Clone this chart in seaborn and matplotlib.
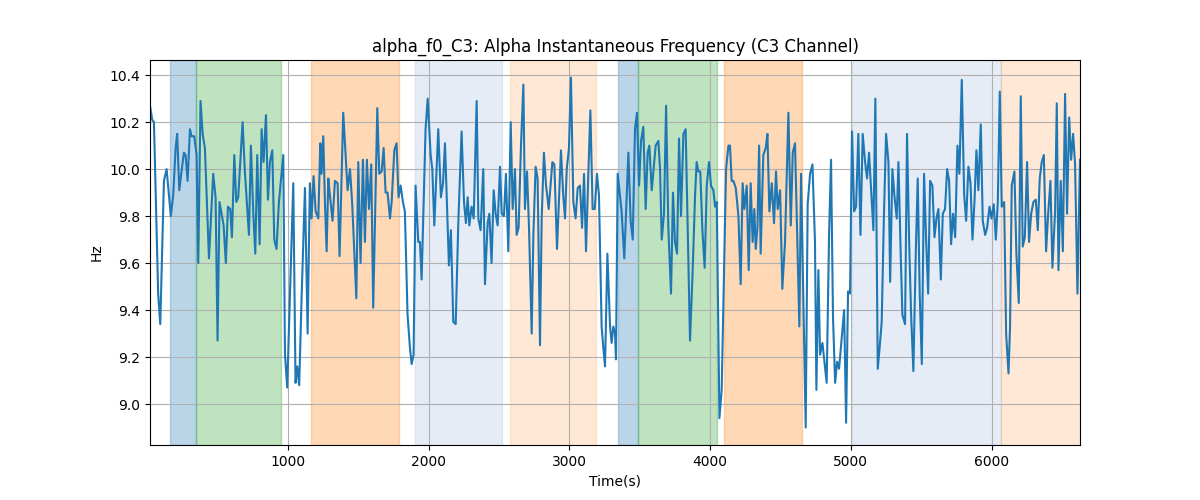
import matplotlib
matplotlib.use("Agg")
import matplotlib.pyplot as plt
import pandas as pd
import seaborn as sns

# alpha instantaneous frequency samples (time in s, value in Hz)
times = [20, 36, 48, 78, 93, 119, 138, 168, 185, 202, 213, 228, 244, 261, 273, 287, 304, 315, 334, 351,
         363, 379, 394, 410, 439, 469, 486, 500, 514, 543, 559, 574, 590, 602, 619, 633, 647, 678, 694, 723,
         737, 754, 768, 782, 799, 813, 827, 844, 858, 872, 889, 903, 919, 936, 967, 979, 995, 1038, 1054, 1066,
         1080, 1097, 1121, 1140, 1156, 1168, 1182, 1197, 1216, 1230, 1239, 1251, 1263, 1275, 1287, 1298, 1317, 1334, 1353, 1367,
         1393, 1424, 1441, 1457, 1486, 1500, 1516, 1533, 1547, 1561, 1576, 1592, 1606, 1635, 1649, 1666, 1680, 1694, 1708, 1725,
         1737, 1756, 1772, 1786, 1801, 1817, 1831, 1850, 1867, 1879, 1893, 1907, 1926, 1938, 1950, 1978, 1993, 2014, 2026, 2040,
         2068, 2087, 2102, 2116, 2144, 2158, 2175, 2192, 2211, 2234, 2251, 2265, 2277, 2289, 2305, 2320, 2341, 2353, 2369, 2388,
         2400, 2419, 2431, 2447, 2462, 2476, 2490, 2507, 2519, 2535, 2549, 2566, 2583, 2597, 2613, 2625, 2639, 2656, 2673, 2684,
         2699, 2713, 2732, 2744, 2760, 2774, 2791, 2803, 2819, 2834, 2853, 2879, 2893, 2912, 2940, 2957, 2969, 2981, 2997, 3011,
         3028, 3044, 3059, 3075, 3090, 3104, 3118, 3134, 3149, 3165, 3180, 3196, 3210, 3229, 3241, 3253, 3270, 3289, 3300, 3312,
         3324, 3331, 3343, 3371, 3390, 3419, 3435, 3450, 3466, 3480, 3495, 3509, 3525, 3542, 3556, 3568, 3585, 3613, 3632, 3644,
         3656, 3672, 3687, 3703, 3722, 3736, 3750, 3765, 3779, 3793, 3810, 3826, 3857, 3876, 3893, 3904, 3916, 3930, 3945, 3961,
         3976, 3992, 4006, 4023, 4035, 4047, 4066, 4082, 4113, 4130, 4141, 4153, 4165, 4182, 4201, 4217, 4231, 4243, 4260, 4274,
         4288, 4302, 4314, 4324, 4336, 4348, 4359, 4378, 4395, 4407, 4421, 4438, 4454, 4468, 4480, 4497, 4513, 4532, 4556, 4573,
         4587, 4603, 4620, 4634, 4646, 4679, 4693, 4710, 4727, 4745, 4755, 4769, 4781, 4798, 4812, 4828, 4845, 4859, 4873, 4888,
         4902, 4916, 4935, 4952, 4966, 4980, 4994, 5008, 5023, 5037, 5053, 5068, 5084, 5101, 5115, 5129, 5143, 5160, 5174, 5191,
         5207, 5219, 5234, 5250, 5267, 5279, 5295, 5309, 5326, 5338, 5354, 5366, 5385, 5399, 5414, 5428, 5444, 5461, 5475, 5489,
         5504, 5520, 5534, 5549, 5563, 5579, 5594, 5608, 5622, 5639, 5653, 5669, 5684, 5698, 5712, 5726, 5741, 5757, 5771, 5788,
         5805, 5819, 5835, 5850, 5864, 5878, 5892, 5906, 5923, 5937, 5954, 5968, 5985, 5999, 6015, 6030, 6044, 6058, 6072, 6089,
         6103, 6120, 6131, 6143, 6162, 6176, 6193, 6207, 6221, 6236, 6252, 6266, 6281, 6297, 6314, 6328, 6342, 6356, 6371, 6387,
         6402, 6418, 6432, 6451, 6463, 6475, 6491, 6506, 6522, 6536, 6551, 6565, 6579, 6593, 6610, 6628]
freq = [10.27, 10.21, 10.20, 9.47, 9.34, 9.95, 10.00, 9.80, 9.89, 10.09, 10.15, 9.91, 9.99, 10.07, 10.06, 9.95, 10.17, 10.14, 10.14, 10.06,
        9.60, 10.29, 10.15, 10.09, 9.62, 9.98, 9.88, 9.27, 9.86, 9.76, 9.60, 9.84, 9.83, 9.71, 10.06, 9.86, 9.88, 10.20, 9.99, 9.72,
        10.10, 9.81, 9.64, 10.06, 9.68, 10.17, 10.03, 10.23, 9.87, 10.03, 10.08, 9.70, 9.66, 9.86, 10.06, 9.21, 9.07, 9.94, 9.09, 9.16,
        9.08, 9.45, 9.92, 9.30, 9.94, 9.79, 9.97, 9.82, 9.79, 10.11, 9.98, 10.14, 9.86, 9.65, 9.96, 9.89, 9.78, 9.95, 9.94, 9.63,
        10.24, 9.91, 10.00, 9.85, 9.45, 10.03, 9.60, 10.04, 9.69, 10.04, 9.83, 10.02, 9.41, 10.26, 9.98, 9.99, 10.09, 9.90, 9.90, 9.79,
        9.86, 10.08, 10.11, 9.88, 9.93, 9.86, 9.82, 9.38, 9.24, 9.17, 9.21, 9.93, 9.69, 9.69, 9.53, 10.17, 10.30, 10.06, 10.00, 9.76,
        10.17, 9.88, 9.94, 10.11, 9.59, 9.74, 9.35, 9.34, 9.78, 10.16, 9.86, 9.77, 9.88, 9.76, 9.84, 9.79, 10.29, 9.79, 9.74, 10.00,
        9.51, 9.77, 9.81, 9.60, 9.91, 9.81, 9.76, 10.01, 9.81, 9.80, 9.98, 9.65, 10.20, 9.83, 10.00, 9.72, 9.75, 10.10, 10.36, 9.83,
        9.99, 9.75, 9.30, 9.72, 10.01, 9.96, 9.25, 9.79, 10.07, 9.93, 9.83, 10.03, 10.02, 9.66, 10.08, 9.88, 9.79, 10.00, 10.09, 10.39,
        9.86, 9.79, 9.92, 9.93, 9.75, 9.98, 9.65, 9.97, 10.25, 9.83, 9.83, 9.98, 9.89, 9.33, 9.24, 9.16, 9.64, 9.33, 9.26, 9.33,
        9.30, 9.19, 9.98, 9.82, 9.62, 10.07, 9.78, 9.70, 10.17, 10.24, 9.93, 10.12, 10.18, 9.83, 10.07, 10.10, 9.91, 10.10, 10.12, 10.00,
        9.70, 9.81, 10.27, 9.75, 9.47, 9.90, 9.69, 9.64, 10.13, 9.80, 10.15, 10.17, 9.27, 9.57, 9.89, 10.03, 9.99, 9.99, 9.74, 9.58,
        9.93, 10.03, 9.93, 9.91, 9.84, 9.86, 8.94, 9.06, 10.00, 10.10, 10.10, 9.95, 9.95, 9.92, 9.80, 9.51, 9.94, 9.83, 9.93, 9.57,
        9.94, 9.69, 9.83, 9.66, 9.75, 10.10, 9.64, 10.06, 10.09, 10.15, 9.82, 9.94, 9.77, 9.99, 9.83, 9.91, 9.49, 9.69, 10.24, 9.76,
        10.07, 10.11, 9.69, 9.33, 9.98, 8.90, 9.85, 9.98, 10.02, 9.69, 9.06, 9.57, 9.21, 9.26, 9.18, 9.09, 9.72, 10.04, 9.37, 9.09,
        9.18, 9.15, 9.28, 9.40, 8.92, 9.48, 9.47, 10.16, 9.82, 9.84, 10.15, 9.72, 10.15, 10.03, 9.96, 10.07, 9.92, 9.74, 10.30, 9.15,
        9.26, 9.35, 9.78, 10.15, 10.03, 9.52, 10.00, 9.89, 9.79, 10.03, 9.64, 9.38, 9.34, 10.15, 9.69, 9.38, 9.14, 9.64, 9.96, 9.47,
        9.17, 9.98, 9.71, 9.47, 9.95, 9.93, 9.71, 9.79, 9.83, 9.53, 9.81, 9.83, 10.00, 9.95, 9.68, 9.81, 9.71, 10.10, 9.98, 10.38,
        9.89, 9.78, 10.01, 9.94, 9.70, 9.86, 10.08, 9.91, 10.19, 9.78, 9.72, 9.75, 9.84, 9.79, 9.85, 9.70, 9.86, 10.33, 9.84, 9.86,
        9.30, 9.13, 9.33, 9.93, 9.99, 9.64, 9.43, 10.31, 9.67, 9.71, 10.03, 9.69, 9.81, 9.86, 9.87, 9.74, 9.96, 10.03, 10.06, 9.65,
        9.81, 9.95, 9.58, 9.82, 10.28, 9.57, 9.95, 9.65, 10.32, 9.81, 10.22, 10.04, 10.15, 10.02, 9.47, 10.04]

# shaded intervals
span_start = [161, 344, 1163, 1903, 2578, 3343, 3490, 4099, 5006, 6067]
span_end = [344, 948, 1787, 2519, 3187, 3490, 4047, 4651, 6067, 6700]
span_color = ['tab:blue', 'tab:green', 'tab:orange', '#4a7fc0', 'tab:orange',
              'tab:blue', 'tab:green', 'tab:orange', '#4a7fc0', 'tab:orange']
span_alpha = [0.3, 0.3, 0.3, 0.14, 0.17, 0.3, 0.3, 0.3, 0.14, 0.17]

df = pd.DataFrame({'time': times, 'hz': freq})

fig, ax = plt.subplots(figsize=(12, 5), dpi=100)
for s, e, c, a in zip(span_start, span_end, span_color, span_alpha):
    ax.axvspan(s, e, color=c, alpha=a)
sns.lineplot(data=df, x='time', y='hz', ax=ax, color='tab:blue', linewidth=1.5)
ax.set_xlim(df.time.min(), df.time.max())
ax.grid(True)
ax.set(xlabel='Time(s)', ylabel='Hz',
       title='alpha_f0_C3: Alpha Instantaneous Frequency (C3 Channel)')

fig.savefig('out.png')
